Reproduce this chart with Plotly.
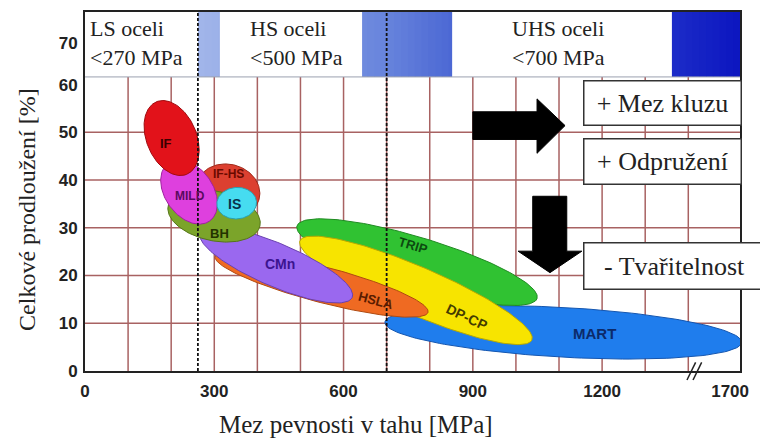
import numpy as np
import plotly.graph_objects as go

# ---------------- data ----------------
grades   = ["MART", "TRIP", "DP-CP", "HSLA", "CMn", "IF-HS", "BH", "MILD", "IS", "IF"]
ts_start = [696, 492, 499, 302, 267, 260, 193, 194, 306, 166]        # MPa (one end of blob)
el_start = [10.2, 30.4, 27.3, 24.0, 29.0, 39.4, 34.6, 43.6, 34.8, 56.4]  # %
ts_end   = [1524, 1049, 1037, 796, 620, 404, 406, 289, 398, 236]       # MPa (other end)
el_end   = [6.0, 15.2, 6.5, 12.3, 15.4, 36.0, 30.4, 31.4, 35.5, 41.2]  # %
half_w   = [5.2, 5.2, 5.0, 3.75, 4.5, 5.6, 5.2, 5.0, 3.3, 5.2]         # % (semi-minor)
label_ts = [1183, 761, 886, 675, 452, 332, 311, 244, 346, 188]
label_el = [7.9, 26.2, 11.3, 14.8, 22.5, 41.2, 28.7, 36.7, 35.0, 47.7]
label_angle = [0, 17, 25, 15, 0, 0, 0, 0, 0, 0]

x_tickvals = [0, 300, 600, 900, 1200, 1497]
x_ticktext = ["0", "300", "600", "900", "1200", "1700"]
y_tickvals = [0, 10, 20, 30, 40, 50, 60, 68.6]
y_ticktext = ["0", "10", "20", "30", "40", "50", "60", "70"]

class_limits = [262, 700]              # dashed lines (MPa)
band_names = ["LS oceli<br>&lt;270 MPa", "HS oceli<br>&lt;500 MPa", "UHS oceli<br>&lt;700 MPa"]
band_text_ts = [8, 378, 986]
white_boxes = [(0, 262), (313, 643), (852, 1362)]
effects = ["+ Mez kluzu", "+ Odpružení", "- Tvařitelnost"]

# ---------------- style ----------------
fill_colors = ["#1f7ded", "#30c232", "#f7e400", "#ef6a22", "#9a68ef",
               "#dc4030", "#7ba42a", "#de40de", "#46dcf0", "#e2121a"]
line_colors = ["#1456b0", "#1f8a22", "#b8a800", "#b04a10", "#6a40b0",
               "#a02818", "#557518", "#a020a0", "#2aa0b0", "#a00a0e"]
text_colors = ["#0c2a6a", "#0c4a10", "#443c00", "#5a1c00", "#3c1490",
               "#6a0a00", "#243200", "#5a0a60", "#08304a", "#3a0000"]
label_size = [15, 13, 14, 13, 14, 12, 13, 12, 14, 13]

# page has an 8px body margin, so the figure is 8px smaller and shifted
W, H = 760, 440
ML, MR, MT, MB = 77, 28, 2, 77
XMAX, YMAX = 1520, 75.2
BAND_BOTTOM = 61.6
PW, PH = W - ML - MR, H - MT - MB
sx = PW / XMAX
sy = PH / YMAX


def ellipse(x1, y1, x2, y2, hw):
    X1, Y1, X2, Y2 = x1 * sx, y1 * sy, x2 * sx, y2 * sy
    cx, cy = (X1 + X2) / 2, (Y1 + Y2) / 2
    a = np.hypot(X2 - X1, Y2 - Y1) / 2
    th = np.arctan2(Y2 - Y1, X2 - X1)
    b = hw * sy
    t = np.linspace(0, 2 * np.pi, 160)
    ex = cx + a * np.cos(t) * np.cos(th) - b * np.sin(t) * np.sin(th)
    ey = cy + a * np.cos(t) * np.sin(th) + b * np.sin(t) * np.cos(th)
    return ex / sx, ey / sy


fig = go.Figure()

for i, g in enumerate(grades):
    ex, ey = ellipse(ts_start[i], el_start[i], ts_end[i], el_end[i], half_w[i])
    fig.add_trace(go.Scatter(x=ex, y=ey, mode="lines", fill="toself",
                             fillcolor=fill_colors[i],
                             line=dict(color=line_colors[i], width=1),
                             hoverinfo="skip", showlegend=False, name=g))

shapes = []
# grid
for gx in range(100, 1500, 100):
    shapes.append(dict(type="line", xref="x", yref="y", x0=gx, x1=gx, y0=0, y1=BAND_BOTTOM,
                       line=dict(color="#a86262", width=1.5), layer="below"))
for gy in range(10, 60, 10):
    shapes.append(dict(type="line", xref="x", yref="y", x0=0, x1=XMAX, y0=gy, y1=gy,
                       line=dict(color="#a86262", width=1.5), layer="below"))

# band gradient
def lerp(c1, c2, t):
    a = [int(c1[k:k + 2], 16) for k in (1, 3, 5)]
    b = [int(c2[k:k + 2], 16) for k in (1, 3, 5)]
    return "#%02x%02x%02x" % tuple(int(round(a[j] + (b[j] - a[j]) * t)) for j in range(3))

stops = [(262, "#a2b6ea"), (700, "#6784dc"), (850, "#4c68d4"), (1362, "#1c2cc8"), (1520, "#0c16c0")]
n = 80
for k in range(n):
    x0 = 262 + (XMAX - 262) * k / n
    x1 = 262 + (XMAX - 262) * (k + 1) / n
    xm = (x0 + x1) / 2
    for j in range(len(stops) - 1):
        if stops[j][0] <= xm <= stops[j + 1][0]:
            t = (xm - stops[j][0]) / (stops[j + 1][0] - stops[j][0])
            col = lerp(stops[j][1], stops[j + 1][1], t)
    shapes.append(dict(type="rect", xref="x", yref="y", x0=x0, x1=min(x1 + 2, XMAX), y0=BAND_BOTTOM, y1=YMAX,
                       fillcolor=col, line=dict(width=0), layer="below"))
for (a, b) in white_boxes:
    shapes.append(dict(type="rect", xref="x", yref="y", x0=a, x1=b, y0=BAND_BOTTOM, y1=YMAX,
                       fillcolor="white", line=dict(width=0), layer="below"))
shapes.append(dict(type="line", xref="x", yref="y", x0=0, x1=XMAX, y0=BAND_BOTTOM, y1=BAND_BOTTOM,
                   line=dict(color="#9aa0b0", width=1), layer="below"))

# dashed class limits
for cl in class_limits:
    shapes.append(dict(type="line", xref="x", yref="y", x0=cl, x1=cl, y0=0, y1=YMAX,
                       line=dict(color="#111", width=1.8, dash="3px,2px"), layer="above"))

# arrows (in data units)
def path(pts):
    return "M " + " L ".join("%.2f,%.2f" % p for p in pts) + " Z"

right_arrow = [(900, 54.3), (1049, 54.3), (1049, 57.0), (1114, 51.4),
               (1049, 45.6), (1049, 48.5), (900, 48.5)]
down_arrow = [(1039, 36.6), (1118, 36.6), (1118, 25.1), (1153, 25.1),
              (1079, 20.6), (1005, 25.1), (1039, 25.1)]
for arr in (right_arrow, down_arrow):
    shapes.append(dict(type="path", xref="x", yref="y", path=path(arr),
                       fillcolor="black", line=dict(color="black", width=1), layer="above"))

# axis break marks
for bx in (1397, 1411):
    shapes.append(dict(type="line", xref="paper", yref="paper",
                       x0=bx / XMAX, x1=(bx + 20) / XMAX, y0=-0.025, y1=0.024,
                       line=dict(color="#222", width=1.5)))

annotations = []
for i, g in enumerate(grades):
    annotations.append(dict(x=label_ts[i], y=label_el[i], xref="x", yref="y", text=g,
                            showarrow=False, textangle=label_angle[i],
                            font=dict(family="Liberation Sans, Arial", size=label_size[i],
                                      color=text_colors[i], weight="bold")))

for name, tx in zip(band_names, band_text_ts):
    annotations.append(dict(x=tx, y=(BAND_BOTTOM + YMAX) / 2 + 0.4, xref="x", yref="y", text=name,
                            showarrow=False, xanchor="left", yanchor="middle", align="left",
                            font=dict(family="Liberation Serif, Times New Roman", size=22, color="#222")))

box_ts = [1341, 1341, 1369]
box_el = [56.1, 43.9, 22.1]
box_w = [156, 156, 180]
box_h = [43, 44, 45]
for t, x, y, bw, bh in zip(effects, box_ts, box_el, box_w, box_h):
    annotations.append(dict(x=x, y=y, xref="x", yref="y", text=t, showarrow=False,
                            width=bw, height=bh, bgcolor="white", bordercolor="#333",
                            borderwidth=1.5, borderpad=0,
                            font=dict(family="Liberation Serif, Times New Roman", size=26, color="#222")))

# axis titles (positions given in page pixels of the target)
annotations.append(dict(x=(356 - 85) / PW, y=-(425 - 371) / PH,
                        xref="paper", yref="paper", text="Mez pevnosti v tahu [MPa]",
                        xanchor="center", yanchor="middle",
                        showarrow=False, font=dict(family="Liberation Serif, Times New Roman",
                                                   size=25, color="#222")))
annotations.append(dict(x=-(85 - 27) / PW, y=(371 - 209) / PH,
                        xref="paper", yref="paper", text="Celkové prodloužení [%]", textangle=-90,
                        xanchor="center", yanchor="middle",
                        showarrow=False, font=dict(family="Liberation Serif, Times New Roman",
                                                   size=24, color="#222")))

tickfont = dict(family="Liberation Sans, Arial", size=17, color="#222", weight="bold")
fig.update_layout(
    width=W, height=H, margin=dict(l=ML, r=MR, t=MT, b=MB),
    paper_bgcolor="white", plot_bgcolor="white",
    shapes=shapes, annotations=annotations, showlegend=False,
    xaxis=dict(range=[0, XMAX], tickvals=x_tickvals, ticktext=x_ticktext, showgrid=False,
               zeroline=False, showline=True, mirror=True, linecolor="#222", linewidth=2,
               ticks="outside", ticklen=4, tickcolor="rgba(0,0,0,0)", tickfont=tickfont),
    yaxis=dict(range=[0, YMAX], tickvals=y_tickvals, ticktext=y_ticktext, showgrid=False,
               zeroline=False, showline=True, mirror=True, linecolor="#222", linewidth=2,
               ticks="outside", ticklen=2, tickcolor="rgba(0,0,0,0)", tickfont=tickfont),
)

fig.write_html("out.html")
